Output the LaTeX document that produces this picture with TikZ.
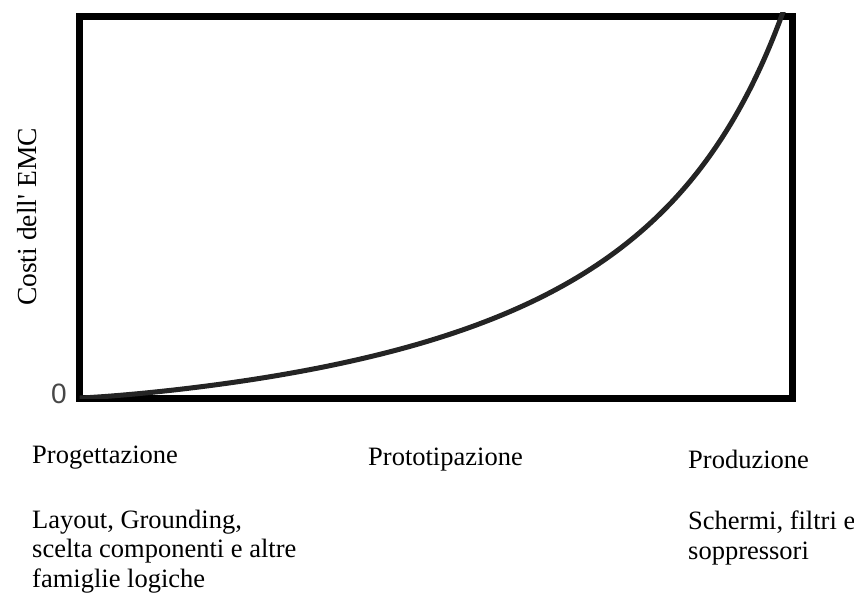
\documentclass[tikz,border=0pt]{standalone}
\usepackage{fontspec}
\setmainfont{Liberation Serif}
\newfontfamily\axisfont{Liberation Sans}
\begin{document}
\begin{tikzpicture}[x=1pt,y=-1pt,
  lbl/.style={anchor=base west,inner sep=0pt,font=\fontsize{26.5}{29.5}\selectfont,align=left},
  frame/.style={line width=7pt,draw=black},
  curve/.style={line width=5pt,draw=black!86,line cap=round}]
\useasboundingbox (0,0) rectangle (854,596);
% plot frame
\coordinate (bl) at (79.5,398);
\coordinate (tr) at (792.5,16.5);
\draw[frame] (bl) rectangle (tr);
% cost curve, s = horizontal distance in hundreds of points
\begin{scope}
\clip (79.5,13) rectangle (792.5,398);
\draw[curve] plot[domain=0.001:7.04,samples=140,smooth]
  ({80+100*\x},{398-68.76*pow(\x,1.2)/(8.88-\x)});
\end{scope}
% axis labels
\node[anchor=base east,inner sep=0pt,text=black!72,font=\axisfont\fontsize{28}{30}\selectfont] (zero) at (67,403) {0};
\node[rotate=90,inner sep=0pt,font=\fontsize{27.5}{30}\selectfont] (ylab) at (27,217) {Costi dell\textquotesingle{} EMC};
% phases (multi-line nodes are placed by the baseline of their last line)
\node[lbl] (p1) at (32,463) {Progettazione};
\node[lbl] (p2) at (368,465) {Prototipazione};
\node[lbl] (p3) at (688,468) {Produzione};
\node[lbl] (d1) at (32,587) {Layout, Grounding,\\scelta componenti e altre\\famiglie logiche};
\node[lbl] (d3) at (688,559) {Schermi, filtri e\\soppressori};
\end{tikzpicture}
\end{document}
